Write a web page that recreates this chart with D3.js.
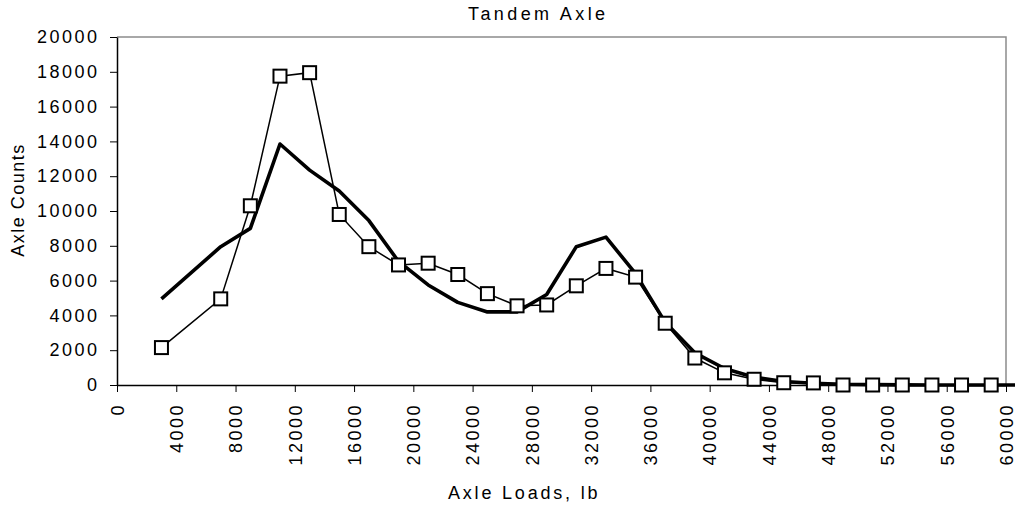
<!DOCTYPE html>
<html>
<head>
<meta charset="utf-8">
<script src="https://cdn.jsdelivr.net/npm/d3@7"></script>
<style>
  body { margin: 0; background: #fff; }
  svg { display: block; }
  text { font-family: "Liberation Sans", Arial, sans-serif; fill: #000; }
</style>
</head>
<body>
<svg id="chart" width="1015" height="506"></svg>
<script>
// Observed tandem axle counts per load bin (lb)
const observedLoads  = [3000, 7000, 9000, 11000, 13000, 15000, 17000, 19000, 21000, 23000,
                        25000, 27000, 29000, 31000, 33000, 35000, 37000, 39000, 41000, 43000,
                        45000, 47000, 49000, 51000, 53000, 55000, 57000, 59000];
const observedCounts = [2150, 4950, 10300, 17750, 17950, 9800, 7950, 6900, 7000, 6350,
                        5250, 4550, 4600, 5700, 6700, 6200, 3550, 1550, 700, 330,
                        130, 120, 0, 0, 0, 0, 0, 0];

// Fitted distribution over the same bins
const fittedLoads  = [3000, 7000, 9000, 11000, 13000, 15000, 17000, 19000, 21000, 23000,
                      25000, 27000, 29000, 31000, 33000, 35000, 37000, 39000, 41000, 43000,
                      45000, 47000, 49000, 51000, 53000, 55000, 57000, 59000, 61000];
const fittedCounts = [4950, 7950, 9000, 13850, 12350, 11150, 9450, 7100, 5750, 4750,
                      4200, 4200, 5200, 7950, 8500, 6400, 3600, 1850, 950, 450,
                      200, 100, 40, 20, 10, 0, 0, 0, 0];

const xTickValues = [0, 4000, 8000, 12000, 16000, 20000, 24000, 28000, 32000,
                     36000, 40000, 44000, 48000, 52000, 56000, 60000];
const yTickValues = [0, 2000, 4000, 6000, 8000, 10000, 12000, 14000, 16000, 18000, 20000];

const svg = d3.select("#chart");
const plotLeft = 117, plotRight = 1006, plotTop = 37, plotBottom = 385;
const FS = 18;
const LS = "2.5px";
const FONT = '"Liberation Sans", Arial, sans-serif';

const x = d3.scaleLinear().domain([0, 60000]).range([plotLeft, plotRight]);
const y = d3.scaleLinear().domain([0, 20000]).range([plotBottom, plotTop]);

// Plot frame: grey top and right edges
svg.append("path")
  .attr("d", `M${plotLeft},${plotTop}H${plotRight}V${plotBottom}`)
  .attr("fill", "none").attr("stroke", "#8c8c8c").attr("stroke-width", 1.5);

// Y axis
const yAxis = svg.append("g").attr("transform", `translate(${plotLeft},0)`)
  .call(d3.axisLeft(y).tickValues(yTickValues).tickSize(7).tickPadding(10.5)
        .tickFormat(d3.format("d")).tickSizeOuter(0));
yAxis.select(".domain").attr("stroke", "#000").attr("stroke-width", 1.5);
yAxis.selectAll(".tick line").attr("stroke", "#000").attr("stroke-width", 1);
yAxis.selectAll(".tick text").attr("font-size", FS).attr("letter-spacing", LS)
  .style("font-family", FONT);

// X axis with vertical labels
const xAxis = svg.append("g").attr("transform", `translate(0,${plotBottom})`)
  .call(d3.axisBottom(x).tickValues(xTickValues).tickSize(7).tickSizeOuter(0)
        .tickFormat(d3.format("d")));
xAxis.select(".domain").attr("stroke", "#000").attr("stroke-width", 1.5);
xAxis.selectAll(".tick line").attr("stroke", "#000").attr("stroke-width", 1);
xAxis.selectAll(".tick text")
  .attr("font-size", FS).attr("letter-spacing", LS)
  .style("font-family", FONT)
  .attr("transform", "rotate(-90)")
  .attr("text-anchor", "end")
  .attr("x", -18).attr("y", 0).attr("dy", "0.35em");

const line = d3.line().x(d => x(d[0])).y(d => y(d[1]));

// Fitted curve (heavy line)
svg.append("path")
  .datum(d3.zip(fittedLoads, fittedCounts))
  .attr("d", line)
  .attr("fill", "none").attr("stroke", "#000").attr("stroke-width", 3.6)
  .attr("stroke-linejoin", "round");

// Observed counts (thin line with square markers)
const observed = d3.zip(observedLoads, observedCounts);
svg.append("path")
  .datum(observed)
  .attr("d", line)
  .attr("fill", "none").attr("stroke", "#000").attr("stroke-width", 1.5);

const m = 13;
svg.append("g").selectAll("rect")
  .data(observed)
  .join("rect")
  .attr("x", d => x(d[0]) - m / 2)
  .attr("y", d => y(d[1]) - m / 2)
  .attr("width", m).attr("height", m)
  .attr("fill", "#fff").attr("stroke", "#000").attr("stroke-width", 2);

// Titles
svg.append("text").attr("x", 468).attr("y", 20)
  .attr("font-size", FS).attr("letter-spacing", "3.4px")
  .text("Tandem Axle");

svg.append("text").attr("x", 448).attr("y", 499)
  .attr("font-size", FS).attr("letter-spacing", "2.8px")
  .text("Axle Loads, lb");

svg.append("text")
  .attr("transform", "translate(24,200) rotate(-90)")
  .attr("text-anchor", "middle")
  .attr("font-size", FS).attr("letter-spacing", "1.5px")
  .text("Axle Counts");
</script>
</body>
</html>
